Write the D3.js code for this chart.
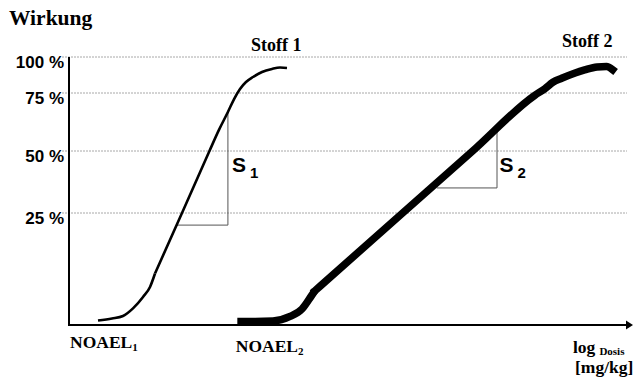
<!DOCTYPE html>
<html>
<head>
<meta charset="utf-8">
<script src="https://cdn.jsdelivr.net/npm/d3@7"></script>
<style>
  body { margin: 0; background: #fff; }
  .serif { font-family: "Liberation Serif", "Times New Roman", serif; font-weight: bold; }
  .sans { font-family: "Liberation Sans", Arial, sans-serif; font-weight: bold; }
</style>
</head>
<body>
<svg id="chart" width="633" height="381"></svg>
<script>
// response ticks (percent)
const yTicks = [25, 50, 75, 100];
const yTickLabels = ["25 %", "50 %", "75 %", "100 %"];

// dose-response curves: [log dose (0-100), response %]
// each curve is drawn as lower tail + main part
const stoff1Tail = [[5.0, 1.0], [7.5, 1.45], [9.46, 2.0], [11.25, 3.7], [13.04, 6.25], [14.29, 8.5], [15.18, 11.5]];
const stoff1Main = [[15.18, 11.5], [20.0, 25], [24.9, 50], [26.6, 59.1], [28.2, 66.8],
  [29.3, 72.4], [30.36, 77.8], [31.43, 82.6], [32.68, 86.1], [34.29, 89.6],
  [36.07, 91.7], [37.5, 92.7], [38.75, 92.4]];
const stoff2Tail = [[29.88, 0.78], [33.04, 0.78], [36.25, 0.89], [39.29, 1.9], [41.43, 3.57], [43.21, 6.7], [43.75, 7.66]];
const stoff2Main = [[43.75, 7.66], [59.4, 25], [71.9, 50], [83.0, 74.0], [84.8, 78.0],
  [86.3, 82.6], [87.8, 85.2], [90.2, 88.9], [91.9, 91.0], [94.1, 93.1],
  [95.8, 93.4], [96.9, 91.2]];

// slope triangles: [x0, x1, yLow, yHigh]
const slope1 = [19.1, 28.2, 22.3, 66.8];
const slope2 = [65.5, 76.25, 35.1, 59.1];

const noaelDoses = [0, 29.6];

const svg = d3.select("#chart");

const x = d3.scaleLinear().domain([0, 100]).range([70, 630]);
const y = d3.scaleLinear().domain([0, 25, 50, 75, 100]).range([325, 213, 151, 93, 57]);

// gridlines
svg.selectAll(".grid")
  .data(yTicks)
  .enter().append("line")
  .attr("class", "grid")
  .attr("x1", 62).attr("x2", 627)
  .attr("y1", d => y(d)).attr("y2", d => y(d))
  .attr("stroke", "#a8a8a8")
  .attr("stroke-width", 1)
  .attr("stroke-dasharray", "2,1");

// tick labels
svg.selectAll(".ylab")
  .data(yTicks)
  .enter().append("text")
  .attr("class", "sans")
  .attr("x", 64)
  .attr("y", d => y(d) + 11)
  .attr("text-anchor", "end")
  .attr("font-size", 17)
  .text((d, i) => yTickLabels[i]);

// axes
svg.append("line")
  .attr("x1", x(0) - 1).attr("x2", x(0) - 1)
  .attr("y1", y(100)).attr("y2", y(0) + 1)
  .attr("stroke", "#000").attr("stroke-width", 2);
svg.append("line")
  .attr("x1", x(0) - 2).attr("x2", 628)
  .attr("y1", y(0)).attr("y2", y(0))
  .attr("stroke", "#000").attr("stroke-width", 2);
svg.append("path")
  .attr("d", "M626,320.5L633,325L626,329.5Z")
  .attr("fill", "#000");

// slope triangles
function triangle(s) {
  return "M" + x(s[0]) + "," + y(s[2]) + "H" + x(s[1]) + "V" + y(s[3]);
}
[slope1, slope2].forEach(s => {
  svg.append("path")
    .attr("d", triangle(s))
    .attr("fill", "none")
    .attr("stroke", "#555")
    .attr("stroke-width", 1);
});

// curves
const line = d3.line()
  .x(d => x(d[0]))
  .y(d => y(d[1]))
  .curve(d3.curveMonotoneX);

[stoff1Tail, stoff1Main].forEach(d => {
  svg.append("path")
    .attr("d", line(d))
    .attr("fill", "none")
    .attr("stroke", "#000")
    .attr("stroke-width", 2.6)
    .attr("stroke-linejoin", "round");
});
[stoff2Tail, stoff2Main].forEach((d, i) => {
  svg.append("path")
    .attr("d", line(d))
    .attr("fill", "none")
    .attr("stroke", "#000")
    .attr("stroke-width", 7.5)
    .attr("stroke-linejoin", "round")
    .attr("stroke-linecap", i == 1 ? "square" : "butt");
});

// slope labels
function slopeLabel(xs, sub) {
  const t = svg.append("text")
    .attr("class", "sans")
    .attr("x", xs)
    .attr("y", 172)
    .attr("font-size", 21);
  t.append("tspan").text("S");
  t.append("tspan").attr("dx", 4).attr("dy", 6).attr("font-size", 15).text(sub);
}
slopeLabel(x(slope1[1]) + 4, "1");
slopeLabel(x(slope2[1]) + 2.5, "2");

// titles
svg.append("text").attr("class", "serif")
  .attr("x", 9).attr("y", 25).attr("font-size", 21.5).text("Wirkung");
svg.append("text").attr("class", "serif")
  .attr("x", 251).attr("y", 50.5).attr("font-size", 18).text("Stoff 1");
svg.append("text").attr("class", "serif")
  .attr("x", 562).attr("y", 47).attr("font-size", 18).text("Stoff 2");

// NOAEL labels
noaelDoses.forEach((d, i) => {
  const t = svg.append("text").attr("class", "serif")
    .attr("x", x(d)).attr("y", 348 + i * 4)
    .attr("font-size", 17.5);
  t.append("tspan").text("NOAEL");
  t.append("tspan").attr("dy", 3).attr("font-size", 11).text(i + 1);
});

// dose axis label
const lg = svg.append("text").attr("class", "serif")
  .attr("x", 573).attr("y", 353).attr("font-size", 17.5);
lg.append("tspan").text("log");
lg.append("tspan").attr("dx", 4).attr("dy", 2).attr("font-size", 11).text("Dosis");
svg.append("text").attr("class", "serif")
  .attr("x", 575).attr("y", 373).attr("font-size", 17.5).text("[mg/kg]");
</script>
</body>
</html>
